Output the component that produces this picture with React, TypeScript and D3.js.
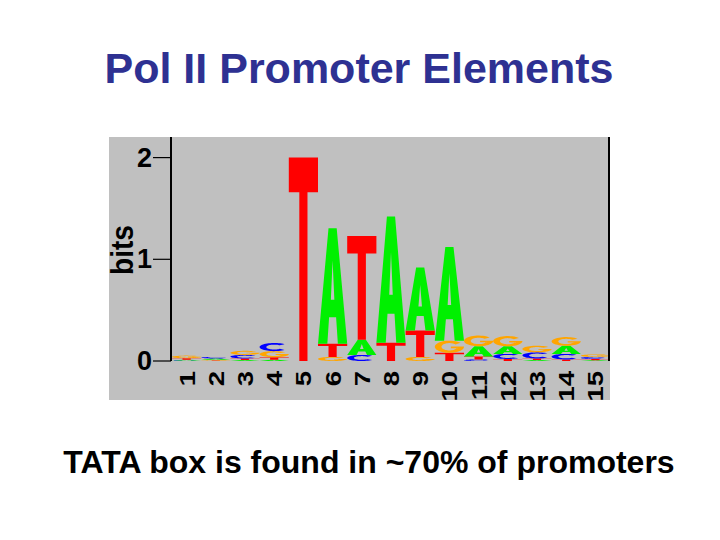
import React from "react";
import * as d3 from "d3";

const positions = ["1","2","3","4","5","6","7","8","9","10","11","12","13","14","15"];
const bitsA = [0.008, 0.012, 0.01, 0.012, 0, 1.135, 0.15, 1.24, 0.62, 0.92, 0.1, 0.075, 0.01, 0.08, 0.008];
const bitsC = [0.005, 0.015, 0.035, 0.08, 0, 0, 0.06, 0, 0, 0, 0.015, 0.05, 0.06, 0.055, 0.02];
const bitsG = [0.025, 0.008, 0.04, 0.06, 0, 0.04, 0, 0, 0.04, 0.12, 0.105, 0.1, 0.065, 0.085, 0.025];
const bitsT = [0.015, 0.005, 0.015, 0.025, 2.0, 0.13, 1.02, 0.18, 0.26, 0.08, 0.03, 0.02, 0.015, 0.015, 0.012];
const yTicks = [0, 1, 2];
const titleText = "Pol II Promoter Elements";
const captionText = "TATA box is found in ~70% of promoters";
const yLabel = "bits";

const colors: Record<string, string> = { A: "#00f000", C: "#0000ff", G: "#ffa500", T: "#ff0000" };

function ring(a0: number, a1: number, steps: number, rx: number, ry: number) {
  const pts: [number, number][] = [];
  for (let i = 0; i <= steps; i++) {
    const a = ((a0 + (a1 - a0) * (i / steps)) * Math.PI) / 180;
    pts.push([0.5 + rx * Math.cos(a), 0.5 + ry * Math.sin(a)]);
  }
  return pts;
}
function toPath(pts: [number, number][]) {
  return "M" + pts.map((p) => p[0].toFixed(4) + "," + p[1].toFixed(4)).join("L") + "Z";
}
const pathC = toPath([...ring(45, 315, 40, 0.5, 0.5), ...ring(315, 45, 40, 0.27, 0.3)]);
const pathG = toPath([
  ...ring(0, 320, 40, 0.5, 0.5),
  ...ring(320, 15, 40, 0.27, 0.3),
  [0.78, 0.62],
  [0.55, 0.62],
  [0.55, 0.48],
  [1, 0.48],
]);
const glyphs: Record<string, string> = {
  T: "M0,0H1V0.17H0.64V1H0.36V0.17H0Z",
  A: "M0.36,0H0.64L1,1H0.68L0.62,0.77H0.38L0.32,1H0ZM0.5,0.28L0.44,0.62H0.56Z",
  C: pathC,
  G: pathG,
};

export default function App() {
  const W = 720, H = 540;
  const x = d3.scaleBand<string>().domain(positions).range([172, 610]).padding(0);
  const y = d3.scaleLinear().domain([0, 2]).range([361, 157.6]);
  const bw = x.bandwidth();

  const stacks = positions.map((p, i) => {
    const items = [
      { l: "A", h: bitsA[i] },
      { l: "C", h: bitsC[i] },
      { l: "G", h: bitsG[i] },
      { l: "T", h: bitsT[i] },
    ]
      .filter((d) => d.h > 0)
      .sort((a, b) => a.h - b.h);
    let cum = 0;
    return items.map((d) => {
      const y0 = y(cum);
      cum += d.h;
      const y1 = y(cum);
      return { ...d, pos: p, y0, y1 };
    });
  });

  return (
    <svg width={W} height={H} style={{ position: "absolute", left: 0, top: 0, background: "#fff" }}
      fontFamily="'Liberation Sans', Arial, Helvetica, sans-serif">
      <rect x={0} y={0} width={W} height={H} fill="#fff" />
      <text x={359} y={83} textAnchor="middle" fontSize={43} fontWeight="bold" fill="#2e3192">{titleText}</text>
      <defs>
        <clipPath id="panel">
          <rect x={109} y={137} width={501} height={263} />
        </clipPath>
      </defs>
      <rect x={109} y={137} width={501} height={263} fill="#c0c0c0" />
      <g clipPath="url(#panel)">
        {stacks.map((col, i) =>
          col.map((d) => (
            <path
              key={i + d.l}
              d={glyphs[d.l]}
              fill={colors[d.l]}
              fillRule="evenodd"
              transform={`translate(${x(d.pos)},${d.y1}) scale(${bw},${d.y0 - d.y1})`}
            />
          ))
        )}
        {positions.map((p) => (
          <text
            key={p}
            transform={`translate(${(x(p) as number) + bw / 2},371) rotate(-90) scale(1.25,1)`}
            textAnchor="end"
            dominantBaseline="central"
            fontSize={22}
            fontWeight="bold"
            fill="#000"
          >
            {p}
          </text>
        ))}
      </g>
      <line x1={171} x2={171} y1={137} y2={y(0)} stroke="#000" strokeWidth={2} />
      <line x1={609} x2={609} y1={137} y2={y(0)} stroke="#000" strokeWidth={2} />
      {yTicks.map((t) => (
        <g key={t}>
          <line x1={153} x2={171} y1={y(t)} y2={y(t)} stroke="#000" strokeWidth={1.2} />
          <text x={152} y={y(t)} textAnchor="end" dominantBaseline="central" fontSize={27} fontWeight="bold" fill="#000">
            {t}
          </text>
        </g>
      ))}
      <text
        transform="translate(132.5,250) rotate(-90)"
        textAnchor="middle"
        fontSize={31}
        fontWeight="bold"
        textLength={50}
        lengthAdjust="spacingAndGlyphs"
        fill="#000"
      >
        {yLabel}
      </text>
      <text x={369} y={473} textAnchor="middle" fontSize={32} fontWeight="bold" fill="#000">{captionText}</text>
    </svg>
  );
}
